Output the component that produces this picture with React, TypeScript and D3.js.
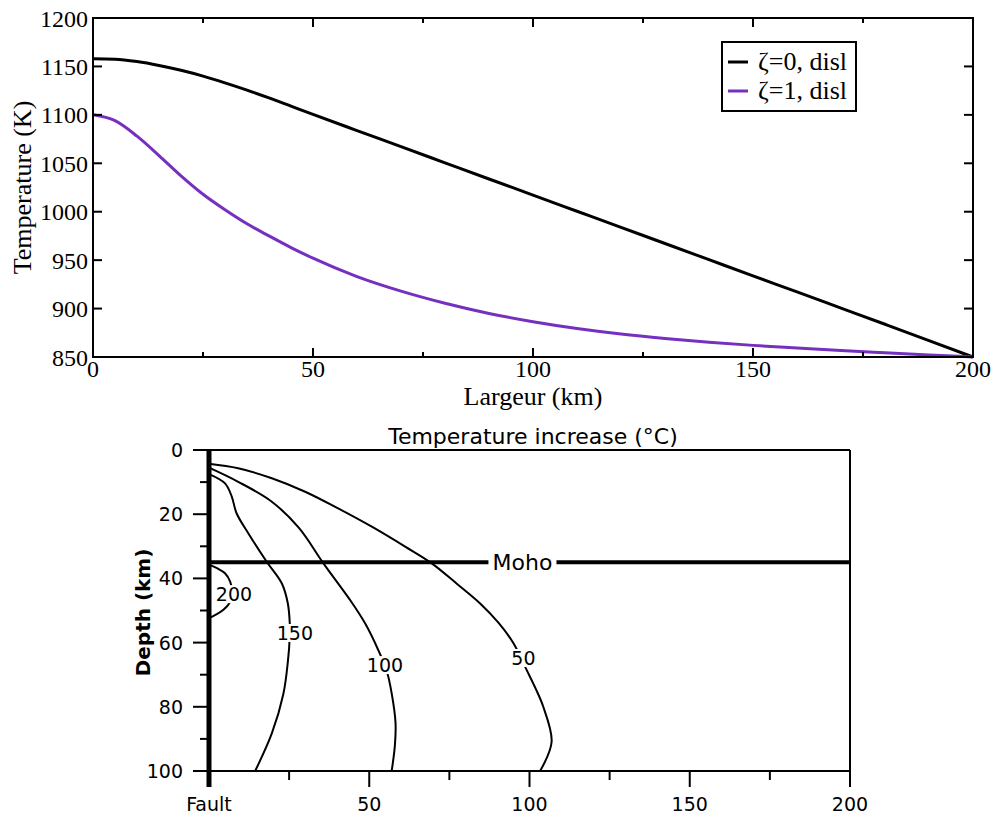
import React from "react";
import * as d3 from "d3";

// ---------- Top chart data ----------
const largeurKm = [0, 5, 10, 15, 20, 25, 30, 35, 40, 45, 50, 60, 70, 80, 90, 100, 110, 120, 130, 140, 150, 160, 170, 180, 190, 200];
const tempZeta0 = [1158, 1157.5, 1155, 1151, 1146, 1140, 1133, 1125.5, 1117.5, 1109, 1100.5, 1083.8, 1067.2, 1050.5, 1033.8, 1017.2, 1000.5, 983.8, 967.2, 950.5, 933.8, 917.2, 900.5, 883.8, 867, 850];
const tempZeta1 = [1100, 1094, 1078, 1058, 1037, 1018, 1002, 987.5, 975, 963, 952, 933, 918, 905.5, 895, 886.5, 879.5, 873.8, 869.2, 865.3, 862, 859.2, 856.6, 854.3, 852.1, 850];
const seriesNames = ["ζ=0, disl", "ζ=1, disl"];
const seriesColors = ["#000000", "#7530c0"];
const topYTicks = [850, 900, 950, 1000, 1050, 1100, 1150, 1200];
const topXTicks = [0, 50, 100, 150, 200];
const topXMinor = [25, 75, 125, 175];

// ---------- Bottom chart data ----------
// [temperature increase axis value, depth km]
const contour50 = [[0, 4.3], [9.1, 5.7], [19.6, 8.8], [30, 13], [40.3, 18.2], [50.8, 23.9], [61.2, 30.1], [69.5, 35.3], [77.5, 41.8], [84.6, 47.8], [90.3, 53.8], [95, 60.2], [99.1, 68.5], [102, 74.5], [104.3, 80], [106.9, 90.9], [103.3, 100]];
const contour100 = [[0, 5.5], [9.1, 9.9], [19.6, 16.1], [28, 24.2], [35.7, 35.3], [44, 46.7], [48.7, 54], [52.8, 62.3], [55.5, 69], [57, 75.8], [58.2, 85], [58, 92], [57, 100]];
const contour150 = [[0, 7.5], [5, 10.4], [7.1, 14.5], [8.6, 19.7], [12.3, 26], [18, 34.8], [22.7, 41.5], [24.6, 47.8], [25.2, 54], [25.2, 58], [24.6, 66], [23.2, 76], [19.6, 88.3], [14.4, 100]];
const contour200 = [[0, 35.7], [2.5, 36.8], [5, 38.4], [6.6, 41], [7.3, 44.9], [6.5, 47.5], [4.5, 49.8], [2, 51.4], [0, 52.4]];
const contours = [contour50, contour100, contour150, contour200];
const contourLabels = ["50", "100", "150", "200"];
const contourLabelPos = [[98.1, 64.8], [54.9, 67], [26.8, 57], [7.8, 44.9]];
const mohoDepth = 35;
const mohoLabelX = 97.8;
const bottomXTicks = [0, 50, 100, 150, 200];
const bottomXTickLabels = ["Fault", "50", "100", "150", "200"];
const bottomXMinor = [25, 75, 125, 175];
const bottomYTicks = [0, 20, 40, 60, 80, 100];
const bottomYMinor = [10, 30, 50, 70, 90];

export default function App() {
  // top scales
  const tx = d3.scaleLinear().domain([0, 200]).range([93, 973]);
  const ty = d3.scaleLinear().domain([850, 1200]).range([357, 18]);
  const topLine = (vals: number[]) =>
    d3.line<number>().x((_, i) => tx(largeurKm[i])).y((v) => ty(v)).curve(d3.curveMonotoneX)(vals) || "";

  // bottom scales
  const bx = d3.scaleLinear().domain([0, 200]).range([209, 850]);
  const by = d3.scaleLinear().domain([0, 100]).range([450, 771]);
  const cLine = d3.line<number[]>().x((d) => bx(d[0])).y((d) => by(d[1])).curve(d3.curveCatmullRom.alpha(0.5));

  const serif = "'Liberation Serif', 'Times New Roman', serif";
  const sans = "'DejaVu Sans', Verdana, sans-serif";

  const [L, R] = tx.range();
  const [B, T] = ty.range();

  return (
    <svg width={996} height={816} style={{ position: "absolute", left: 0, top: 0, background: "#fff" }}>
      <rect x={0} y={0} width={996} height={816} fill="#fff" />
      {/* ===== TOP CHART ===== */}
      <g>
        <path d={topLine(tempZeta0)} fill="none" stroke={seriesColors[0]} strokeWidth={3} />
        <path d={topLine(tempZeta1)} fill="none" stroke={seriesColors[1]} strokeWidth={3} />
        <rect x={L} y={T} width={R - L} height={B - T} fill="none" stroke="#000" strokeWidth={2} />
        {topXTicks.map((t) => (
          <g key={"tx" + t}>
            <line x1={tx(t)} x2={tx(t)} y1={B} y2={B - 9} stroke="#000" strokeWidth={2} />
            <line x1={tx(t)} x2={tx(t)} y1={T} y2={T + 9} stroke="#000" strokeWidth={2} />
            <text x={tx(t)} y={377} textAnchor="middle" fontFamily={serif} fontSize={24}>{t}</text>
          </g>
        ))}
        {topXMinor.map((t) => (
          <g key={"txm" + t}>
            <line x1={tx(t)} x2={tx(t)} y1={B} y2={B - 5} stroke="#000" strokeWidth={2} />
            <line x1={tx(t)} x2={tx(t)} y1={T} y2={T + 5} stroke="#000" strokeWidth={2} />
          </g>
        ))}
        {topYTicks.map((t) => (
          <g key={"ty" + t}>
            <line x1={L} x2={L + 9} y1={ty(t)} y2={ty(t)} stroke="#000" strokeWidth={2} />
            <line x1={R} x2={R - 9} y1={ty(t)} y2={ty(t)} stroke="#000" strokeWidth={2} />
            <text x={88} y={ty(t) + 8.5} textAnchor="end" fontFamily={serif} fontSize={24}>{t}</text>
          </g>
        ))}
        <text x={(L + R) / 2} y={405} textAnchor="middle" fontFamily={serif} fontSize={26}>Largeur (km)</text>
        <text transform={`translate(31, ${(T + B) / 2}) rotate(-90)`} textAnchor="middle" fontFamily={serif} fontSize={26}>Temperature (K)</text>
        {/* legend */}
        <rect x={722} y={42} width={134} height={69} fill="#fff" stroke="#000" strokeWidth={2} />
        {seriesNames.map((n, i) => (
          <g key={n}>
            <line x1={728} x2={748} y1={62 + i * 29} y2={62 + i * 29} stroke={seriesColors[i]} strokeWidth={3} />
            <text x={758} y={70 + i * 29} fontFamily={serif} fontSize={26}>{n}</text>
          </g>
        ))}
      </g>

      {/* ===== BOTTOM CHART ===== */}
      <g>
        <text x={533} y={444} textAnchor="middle" fontFamily={sans} fontSize={22}>Temperature increase (°C)</text>
        {/* frame */}
        <line x1={193} x2={bx(200)} y1={by(0)} y2={by(0)} stroke="#000" strokeWidth={2} />
        <line x1={193} x2={bx(200)} y1={by(100)} y2={by(100)} stroke="#000" strokeWidth={2} />
        <line x1={bx(200)} x2={bx(200)} y1={by(0)} y2={by(100)} stroke="#000" strokeWidth={2} />
        {bottomYTicks.map((t) => (
          <g key={"by" + t}>
            <line x1={193} x2={bx(0)} y1={by(t)} y2={by(t)} stroke="#000" strokeWidth={2} />
            <text x={183} y={by(t) + 7} textAnchor="end" fontFamily={sans} fontSize={19}>{t}</text>
          </g>
        ))}
        {bottomYMinor.map((t) => (
          <line key={"bym" + t} x1={200} x2={bx(0)} y1={by(t)} y2={by(t)} stroke="#000" strokeWidth={2} />
        ))}
        {bottomXTicks.map((t, i) => (
          <g key={"bx" + t}>
            <line x1={bx(t)} x2={bx(t)} y1={by(100)} y2={by(100) + 16} stroke="#000" strokeWidth={2} />
            <text x={bx(t)} y={811} textAnchor="middle" fontFamily={sans} fontSize={19}>{bottomXTickLabels[i]}</text>
          </g>
        ))}
        {bottomXMinor.map((t) => (
          <line key={"bxm" + t} x1={bx(t)} x2={bx(t)} y1={by(100)} y2={by(100) + 9} stroke="#000" strokeWidth={2} />
        ))}
        <text transform={`translate(150, ${(by(0) + by(100)) / 2 + 2}) rotate(-90)`} textAnchor="middle" fontFamily={sans} fontWeight="bold" fontSize={20}>Depth (km)</text>
        {/* contours */}
        {contours.map((c, i) => (
          <path key={"c" + i} d={cLine(c) || ""} fill="none" stroke="#000" strokeWidth={2} />
        ))}
        {contourLabels.map((lab, i) => {
          const cx = bx(contourLabelPos[i][0]);
          const cy = by(contourLabelPos[i][1]);
          const w = lab.length * 12.5 + 2;
          return (
            <g key={"cl" + lab}>
              <rect x={cx - w / 2} y={cy - 9} width={w} height={18} fill="#fff" />
              <text x={cx} y={cy + 7} textAnchor="middle" fontFamily={sans} fontSize={19}>{lab}</text>
            </g>
          );
        })}
        {/* Moho */}
        <line x1={bx(0)} x2={bx(200)} y1={by(mohoDepth)} y2={by(mohoDepth)} stroke="#000" strokeWidth={4} />
        <rect x={bx(mohoLabelX) - 34} y={by(mohoDepth) - 12} width={68} height={24} fill="#fff" />
        <text x={bx(mohoLabelX)} y={by(mohoDepth) + 8} textAnchor="middle" fontFamily={sans} fontSize={22}>Moho</text>
        {/* Fault */}
        <line x1={bx(0)} x2={bx(0)} y1={by(0)} y2={by(100) + 16} stroke="#000" strokeWidth={5} />
      </g>
    </svg>
  );
}
